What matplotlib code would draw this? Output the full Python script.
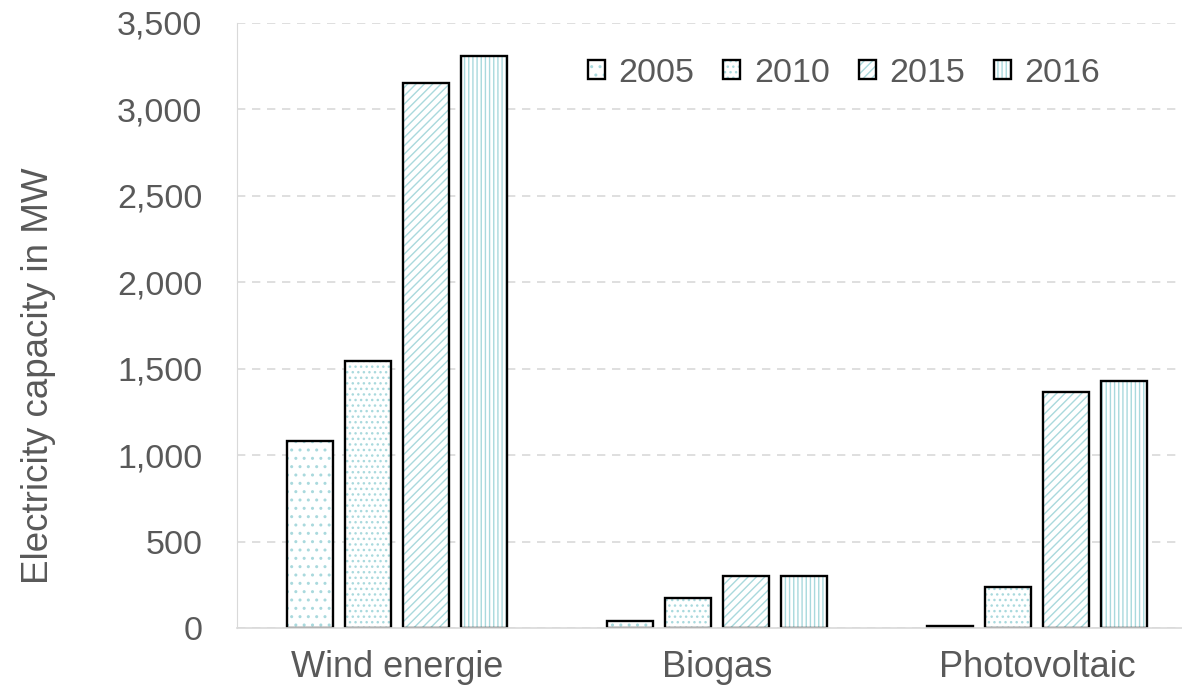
import matplotlib.pyplot as plt
import numpy as np
from matplotlib.patches import Patch
from matplotlib.legend_handler import HandlerTuple

plt.rcParams['font.family'] = ['Liberation Sans', 'DejaVu Sans']
plt.rcParams['hatch.linewidth'] = 1.0

categories = ["Wind energie", "Biogas", "Photovoltaic"]
years = ["2005", "2010", "2015", "2016"]
values = {
    "2005": [1080, 40, 12],
    "2010": [1545, 175, 237],
    "2015": [3150, 300, 1365],
    "2016": [3310, 298, 1429],
}
hatches = ["..", "...", "////", "||||"]

teal = "#a9d9dd"
grey_txt = "#595959"

W, H = 1182, 691
fig = plt.figure(figsize=(W / 100, H / 100), dpi=100)
# plot area runs past the right edge of the image, as in the reference
ax = fig.add_axes([237 / W, 63 / H, 960 / W, 605 / H])

x = np.arange(len(categories))
width = 46 / 320
step = 58 / 320
handles = []
for i, yr in enumerate(years):
    pos = x + (i - 1.5) * step
    ax.bar(pos, values[yr], width, color="white", edgecolor=teal, hatch=hatches[i], lw=0, zorder=3)
    ax.bar(pos, values[yr], width, fill=False, edgecolor="black", lw=1.7, zorder=4)
    h1 = Patch(facecolor="white", edgecolor=teal, hatch=hatches[i], lw=0)
    h2 = Patch(fill=False, edgecolor="black", lw=1.7)
    handles.append((h1, h2))

ax.set_xlim(-0.5, 2.5)
ax.set_ylim(0, 3500)
ax.set_yticks(np.arange(0, 3501, 500))
ax.yaxis.set_major_formatter(plt.FuncFormatter(lambda v, p: f"{int(v):,}"))
ax.set_xticks(x)
ax.set_xticklabels(categories)
ax.tick_params(axis="both", length=0, colors=grey_txt)
ax.tick_params(axis="y", labelsize=24.5, pad=25)
ax.tick_params(axis="x", labelsize=26, pad=16)

ax.grid(axis="y", color="#d9d9d9", ls=(0, (5, 4)), lw=1.2, zorder=0)
for s in ["top", "right"]:
    ax.spines[s].set_visible(False)
ax.spines["left"].set_color("#d9d9d9")
ax.spines["bottom"].set_color("#d9d9d9")
ax.spines["bottom"].set_linewidth(1.2)
ax.spines["bottom"].set_zorder(5)

fig.text(39 / W, 1 - 376 / H, "Electricity capacity in MW", rotation=90, va="center", ha="center",
         fontsize=26.5, color=grey_txt)

ax.legend(handles, years, handler_map={tuple: HandlerTuple(ndivide=1)}, ncol=4,
          loc="center", bbox_to_anchor=(844 / W, 1 - 73 / H), bbox_transform=fig.transFigure,
          frameon=False, fontsize=24.5, labelcolor=grey_txt, handlelength=0.5, handleheight=0.5,
          handletextpad=0.4, columnspacing=0.85, borderpad=0)

fig.savefig("out.png", dpi=100)
